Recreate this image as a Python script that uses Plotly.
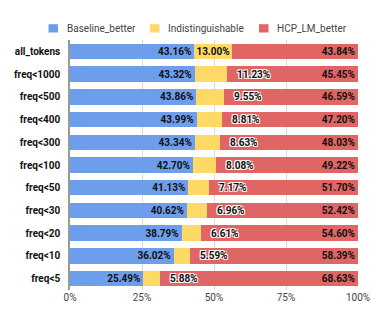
import plotly.graph_objects as go

# Values (percent of tokens)
categories = ["all_tokens", "freq<1000", "freq<500", "freq<400", "freq<300", "freq<100",
              "freq<50", "freq<30", "freq<20", "freq<10", "freq<5"]
baseline_better = [43.16, 43.32, 43.86, 43.99, 43.34, 42.70, 41.13, 40.62, 38.79, 36.02, 25.49]
indistinguishable = [13.00, 11.23, 9.55, 8.81, 8.63, 8.08, 7.17, 6.96, 6.61, 5.59, 5.88]
hcp_lm_better = [43.84, 45.45, 46.59, 47.20, 48.03, 49.22, 51.70, 52.42, 54.60, 58.39, 68.63]
series_names = ["Baseline_better", "Indistinguishable", "HCP_LM_better"]
x_ticks = [0, 25, 50, 75, 100]

blue = "#6d9eeb"
yellow = "#ffd966"
red = "#e06666"
colors = [blue, yellow, red]
label_font = dict(family="Roboto", size=10, color="#111", weight="bold")
halo = "1px 1px 0 #fff, -1px -1px 0 #fff, 1px -1px 0 #fff, -1px 1px 0 #fff"

W, H = 374, 327
L, R, T, B = 70, 16, 40, 37
PW, PH = W - L - R, H - T - B

def fmt(v):
    return f"{v:.2f}%"

def px_x(p):
    return (p - L) / PW

def px_y(p):
    return 1 - (p - T) / PH

fig = go.Figure()

fig.add_trace(go.Bar(
    y=categories, x=baseline_better, name=series_names[0], orientation="h",
    marker=dict(color=blue, line=dict(width=0)),
    text=[fmt(v) for v in baseline_better], textposition="inside", insidetextanchor="end",
    textfont=label_font, constraintext="none",
))

# yellow labels go inside only when the segment is wide enough
fig.add_trace(go.Bar(
    y=categories, x=indistinguishable, name=series_names[1], orientation="h",
    marker=dict(color=yellow, line=dict(width=0)),
    text=[fmt(v) if v >= 12 else "" for v in indistinguishable],
    textposition="inside", insidetextanchor="middle",
    textfont=label_font, constraintext="none",
))

fig.add_trace(go.Bar(
    y=categories, x=hcp_lm_better, name=series_names[2], orientation="h",
    marker=dict(color=red, line=dict(width=0)),
    text=[fmt(v) for v in hcp_lm_better], textposition="inside", insidetextanchor="end",
    textfont=label_font, constraintext="none",
))

for cat, b, v in zip(categories, baseline_better, indistinguishable):
    if v >= 12:
        continue
    fig.add_annotation(
        x=b + v, y=cat, xref="x", yref="y", text=fmt(v), showarrow=False,
        xanchor="left", xshift=8,
        font=dict(family="Roboto", size=10, color="#111", weight="bold", shadow=halo),
    )

# legend drawn by hand (compact spacing like the original)
legend_x = [48.5, 150, 259]
for name, col, lx in zip(series_names, colors, legend_x):
    fig.add_shape(
        type="rect", xref="paper", yref="paper",
        x0=px_x(lx), x1=px_x(lx + 9.5), y0=px_y(24.2), y1=px_y(32.5),
        fillcolor=col, line=dict(width=0),
    )
    fig.add_annotation(
        x=px_x(lx + 16), y=px_y(29), xref="paper", yref="paper",
        text=name, showarrow=False, xanchor="left", yanchor="middle",
        font=dict(family="Roboto", size=10, color="#444"),
    )

fig.update_layout(
    barmode="stack",
    bargap=0.32,
    width=W, height=H,
    margin=dict(l=L, r=R, t=T, b=B, autoexpand=False),
    plot_bgcolor="white", paper_bgcolor="white",
    font=dict(family="Roboto", size=10, color="#444"),
    showlegend=False,
)

fig.update_xaxes(
    range=[0, 100], tickvals=x_ticks, ticktext=[f"{t}%" for t in x_ticks],
    showgrid=True, gridcolor="#d9d9d9", gridwidth=1, zeroline=False,
    tickfont=dict(size=10, color="#444"), ticks="", fixedrange=True,
)
fig.update_yaxes(
    autorange="reversed", showline=True, linecolor="#999", linewidth=1.5,
    tickfont=dict(size=10, color="#111", weight="bold"), ticks="",
    ticklabelstandoff=6,
)

# drop the default 8px page margin so the figure fills the window
fig.write_html(
    "out.html",
    config={"displayModeBar": False},
    post_script="document.body.style.margin='0';document.body.style.overflow='hidden';",
)
